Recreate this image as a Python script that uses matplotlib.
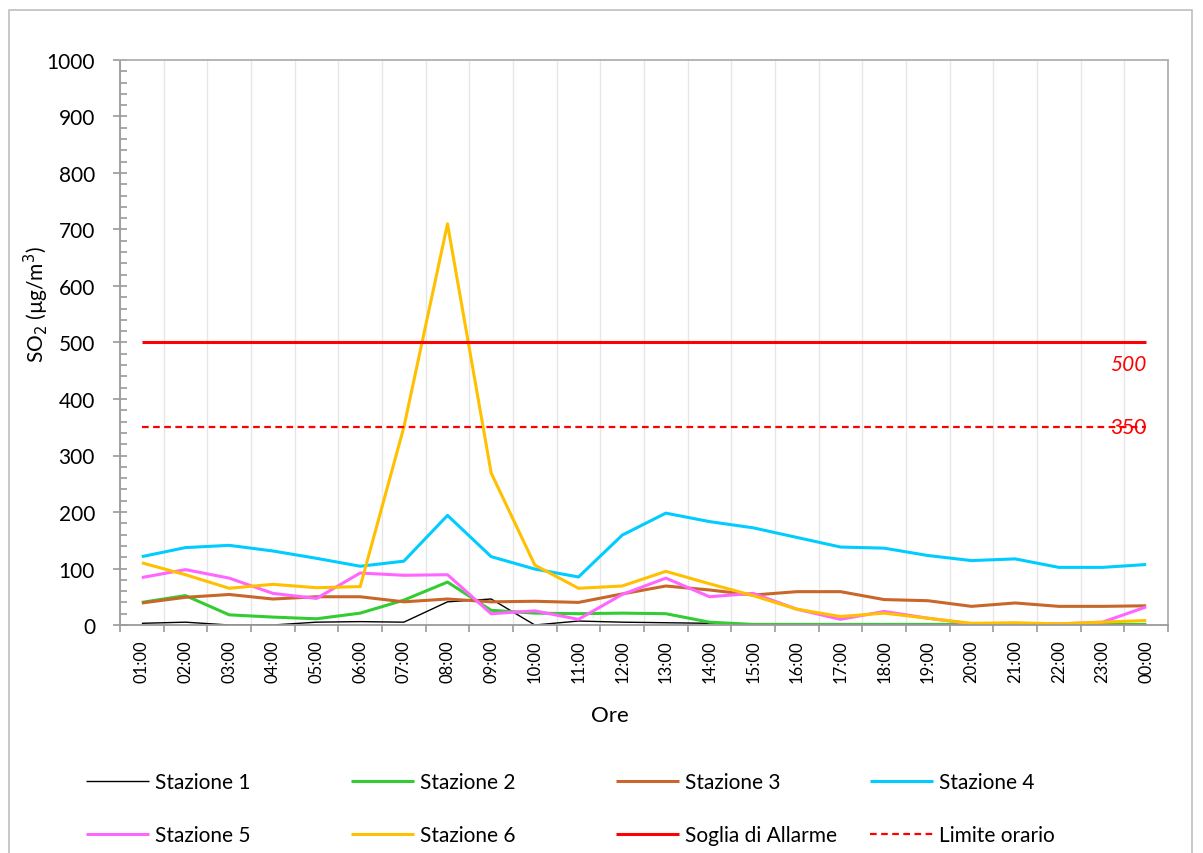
import matplotlib
matplotlib.use("Agg")
import matplotlib.pyplot as plt
from matplotlib.patches import Rectangle
import numpy as np

# ─── Dati ────────────────────────────────────────────────────────────────────
ore = ["01:00", "02:00", "03:00", "04:00", "05:00", "06:00", "07:00", "08:00",
       "09:00", "10:00", "11:00", "12:00", "13:00", "14:00", "15:00", "16:00",
       "17:00", "18:00", "19:00", "20:00", "21:00", "22:00", "23:00", "00:00"]

stazione_1 = [3, 5, 0, 0, 5, 6, 5, 41, 46, 0, 7, 5, 4, 3, 2, 2, 2, 2, 2, 2, 2, 2, 2, 2]
stazione_2 = [40, 52, 18, 14, 11, 21, 44, 76, 26, 21, 20, 21, 20, 5, 1, 1, 1, 1, 1, 1, 1, 1, 1, 1]
stazione_3 = [39, 49, 54, 46, 50, 50, 41, 46, 41, 42, 40, 55, 69, 62, 53, 59, 59, 45, 43, 33, 39, 33, 33, 34]
stazione_4 = [121, 137, 141, 131, 118, 104, 113, 194, 121, 99, 85, 159, 198, 183, 172, 155, 138, 136, 123, 114, 117, 102, 102, 107]
stazione_5 = [84, 98, 83, 56, 47, 92, 88, 89, 20, 25, 10, 54, 83, 50, 56, 28, 10, 24, 12, 2, 2, 2, 5, 32]
stazione_6 = [110, 89, 65, 72, 66, 68, 350, 710, 269, 106, 65, 69, 95, 73, 52, 28, 15, 21, 12, 3, 4, 2, 5, 8]
soglia_allarme = [500] * 24
limite_orario = [350] * 24

# ─── Stile ───────────────────────────────────────────────────────────────────
plt.rcParams["font.family"] = ["Lato", "DejaVu Sans"]
W, H = 1203, 854
GRIGIO = "#9a9a9a"


def fx(px):
    return px / W


def fy(py):
    return 1 - py / H


fig = plt.figure(figsize=(W / 100, H / 100), dpi=100)
fig.patches.append(Rectangle((fx(9), fy(870)), fx(1192) - fx(9), fy(11) - fy(870),
                             transform=fig.transFigure, fill=False,
                             edgecolor="#bfbfbf", linewidth=1.2))

ax = fig.add_axes([fx(120), fy(626), fx(1168) - fx(120), fy(61) - fy(626)])

x = np.arange(len(ore))
serie = [
    ("Stazione 1", stazione_1, "black", 1.0, "-"),
    ("Stazione 2", stazione_2, "#33cc33", 2.2, "-"),
    ("Stazione 3", stazione_3, "#c8672a", 2.2, "-"),
    ("Stazione 4", stazione_4, "#00ccff", 2.2, "-"),
    ("Stazione 5", stazione_5, "#ff66ff", 2.2, "-"),
    ("Stazione 6", stazione_6, "#ffc000", 2.2, "-"),
    ("Soglia di Allarme", soglia_allarme, "#ff0000", 2.2, "-"),
    ("Limite orario", limite_orario, "#ff0000", 1.6, (0, (3, 2))),
]
handles = []
for nome, vals, col, lw, ls in serie:
    h, = ax.plot(x, vals, color=col, linewidth=lw, linestyle=ls, label=nome,
                 solid_capstyle="butt")
    handles.append(h)

ax.set_xlim(-0.5, len(ore) - 0.5)
ax.set_ylim(0, 1000)
ax.set_yticks(np.arange(0, 1001, 100))
ax.set_yticks(np.arange(0, 1001, 20), minor=True)
ax.set_xticks(x)
ax.set_xticklabels(ore, rotation=90, fontsize=12)
ax.set_xticks(np.arange(-0.5, len(ore), 1), minor=True)

ax.tick_params(axis="y", which="major", direction="inout", length=10, width=1.2,
               color=GRIGIO, labelsize=15, pad=13)
ax.tick_params(axis="y", which="minor", direction="in", length=5, width=1.2,
               color=GRIGIO)
ax.tick_params(axis="x", which="major", length=0, pad=10)
ax.tick_params(axis="x", which="minor", direction="out", length=5, width=1.2,
               color=GRIGIO)
ax.grid(axis="x", which="minor", color="#e6e6e6", linewidth=1)
ax.set_axisbelow(True)
for lato, sp in ax.spines.items():
    sp.set_color(GRIGIO if lato in ("left", "bottom") else "#b0b0b0")
    sp.set_linewidth(1.3)

# etichette soglie
ax.text(len(ore) - 1, 500 - 20, "500", color="#ff0000", fontsize=15,
        style="italic", ha="right", va="top")
ax.text(len(ore) - 1, 350, "350", color="#ff0000", fontsize=15,
        ha="right", va="center")

fig.text(fx(36), fy(305), "SO$_2$ (µg/m$^3$)", rotation=90, fontsize=15,
         ha="center", va="center")
fig.text(fx(610), fy(716), "Ore", fontsize=16, ha="center", va="center")

# legenda in quattro colonne
colonne = [(0, 4), (1, 5), (2, 6), (3, 7)]
x_col = [86, 351, 616, 870]
for (a, b), xc in zip(colonne, x_col):
    fig.legend(handles=[handles[a], handles[b]], loc="upper left",
               bbox_to_anchor=(fx(xc), fy(773)), frameon=False, fontsize=15,
               handlelength=3.0, handletextpad=0.3, labelspacing=1.6,
               borderpad=0, borderaxespad=0)

fig.savefig("out.png", dpi=100)
